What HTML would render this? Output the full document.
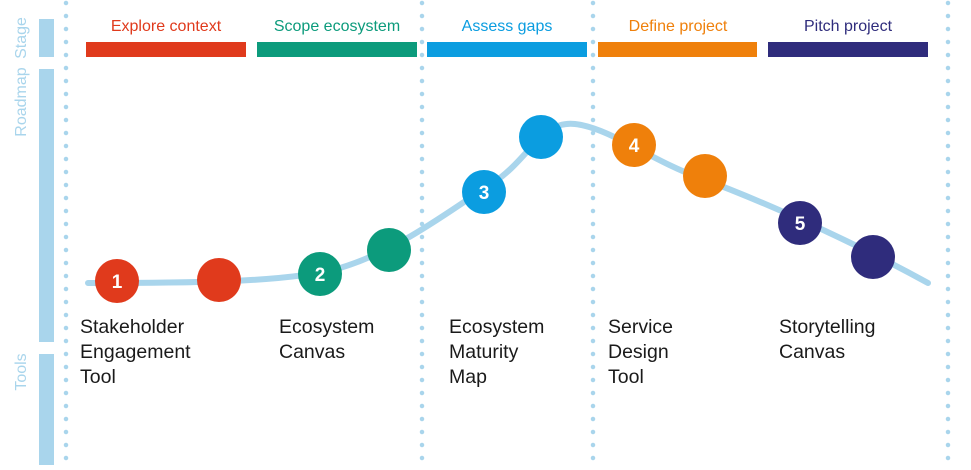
<!DOCTYPE html>
<html><head><style>
body{margin:0;width:971px;height:465px;background:#fff;overflow:hidden;font-family:"Liberation Sans",sans-serif}
</style></head><body>
<svg width="971" height="465" viewBox="0 0 971 465" xmlns="http://www.w3.org/2000/svg">
<g fill="#a9d5ec">
<rect x="39" y="19" width="15" height="38"/>
<rect x="39" y="69" width="15" height="273"/>
<rect x="39" y="354" width="15" height="111"/>
</g>
<g fill="#a9d5ec" font-size="16" text-anchor="middle">
<text transform="translate(26,38) rotate(-90)">Stage</text>
<text transform="translate(26,102) rotate(-90)">Roadmap</text>
<text transform="translate(26,372) rotate(-90)">Tools</text>
</g>
<g stroke="#a9d5ec" stroke-width="4.5" stroke-linecap="round" stroke-dasharray="0 13">
<line x1="66" y1="3" x2="66" y2="465"/>
<line x1="422" y1="3" x2="422" y2="465"/>
<line x1="593" y1="3" x2="593" y2="465"/>
<line x1="948" y1="3" x2="948" y2="465"/>
</g>
<rect x="86" y="42" width="160" height="15" fill="#e03a1c"/>
<rect x="257" y="42" width="160" height="15" fill="#0c9b7c"/>
<rect x="427" y="42" width="160" height="15" fill="#0b9de0"/>
<rect x="598" y="42" width="159" height="15" fill="#ef800b"/>
<rect x="768" y="42" width="160" height="15" fill="#2f2c7c"/>
<g font-size="16" text-anchor="middle">
<text x="166" y="31" fill="#e03a1c">Explore context</text>
<text x="337" y="31" fill="#0c9b7c">Scope ecosystem</text>
<text x="507" y="31" fill="#0b9de0">Assess gaps</text>
<text x="678" y="31" fill="#ef800b">Define project</text>
<text x="848" y="31" fill="#2f2c7c">Pitch project</text>
</g>
<path d="M88,283 C200,283 290,282 340,268 C400,250 450,210 490,185 C530,160 540,120 575,124 C610,128 650,160 700,178 C760,200 850,240 928,283" fill="none" stroke="#a9d5ec" stroke-width="6" stroke-linecap="round"/>
<g>
<circle cx="117" cy="281" r="22" fill="#e03a1c"/>
<circle cx="219" cy="280" r="22" fill="#e03a1c"/>
<circle cx="320" cy="274" r="22" fill="#0c9b7c"/>
<circle cx="389" cy="250" r="22" fill="#0c9b7c"/>
<circle cx="484" cy="192" r="22" fill="#0b9de0"/>
<circle cx="541" cy="137" r="22" fill="#0b9de0"/>
<circle cx="634" cy="145" r="22" fill="#ef800b"/>
<circle cx="705" cy="176" r="22" fill="#ef800b"/>
<circle cx="800" cy="223" r="22" fill="#2f2c7c"/>
<circle cx="873" cy="257" r="22" fill="#2f2c7c"/>
</g>
<g fill="#fff" font-size="19" font-weight="bold" text-anchor="middle">
<text x="117" y="288">1</text>
<text x="320" y="281">2</text>
<text x="484" y="199">3</text>
<text x="634" y="152">4</text>
<text x="800" y="230">5</text>
</g>
<g font-size="19.5" fill="#1a1a1a">
<text x="80" y="333">Stakeholder</text><text x="80" y="358">Engagement</text><text x="80" y="383">Tool</text>
<text x="279" y="333">Ecosystem</text><text x="279" y="358">Canvas</text>
<text x="449" y="333">Ecosystem</text><text x="449" y="358">Maturity</text><text x="449" y="383">Map</text>
<text x="608" y="333">Service</text><text x="608" y="358">Design</text><text x="608" y="383">Tool</text>
<text x="779" y="333">Storytelling</text><text x="779" y="358">Canvas</text>
</g>
</svg>
</body></html>
